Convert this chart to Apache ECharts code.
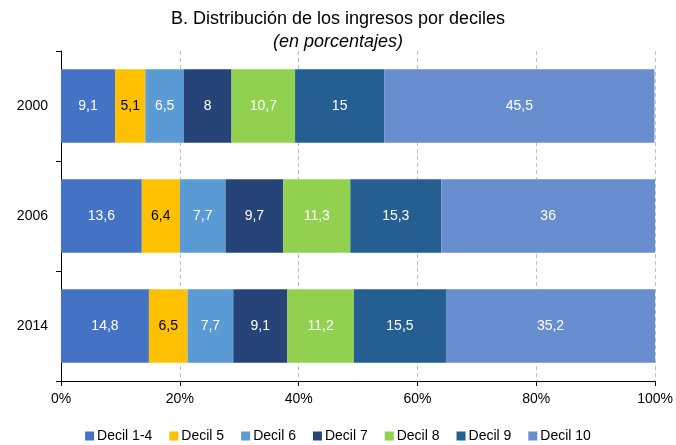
<!DOCTYPE html>
<html><head><meta charset="utf-8">
<script src="https://cdn.jsdelivr.net/npm/echarts@6/dist/echarts.min.js"></script>
<style>html,body{margin:0;padding:0;background:#fff}#c{width:676px;height:445px}</style>
</head><body><div id="c"></div>
<script>
const categories = ['2000', '2006', '2014'];
const seriesNames = ['Decil 1-4', 'Decil 5', 'Decil 6', 'Decil 7', 'Decil 8', 'Decil 9', 'Decil 10'];
const decil14 = [9.1, 13.6, 14.8];
const decil5 = [5.1, 6.4, 6.5];
const decil6 = [6.5, 7.7, 7.7];
const decil7 = [8, 9.7, 9.1];
const decil8 = [10.7, 11.3, 11.2];
const decil9 = [15, 15.3, 15.5];
const decil10 = [45.5, 36, 35.2];
const xTicks = [0, 20, 40, 60, 80, 100];

const values = [decil14, decil5, decil6, decil7, decil8, decil9, decil10];
const colors = ['#4472C4', '#FFC000', '#5B9BD5', '#264478', '#92D050', '#255E91', '#698ED0'];
const labelColors = ['#fff', '#000', '#fff', '#fff', '#fff', '#fff', '#fff'];

const chart = echarts.init(document.getElementById('c'));
chart.setOption({
  animation: false,
  title: {
    text: 'B. Distribución de los ingresos por deciles',
    subtext: '(en porcentajes)',
    left: 'center', top: 9, itemGap: 3, padding: 0,
    textStyle: {fontFamily: 'Liberation Sans', fontSize: 18, fontWeight: 'normal', color: '#000', lineHeight: 20},
    subtextStyle: {fontFamily: 'Liberation Sans', fontSize: 18, fontStyle: 'italic', color: '#000', lineHeight: 20}
  },
  legend: {
    bottom: 2, left: 'center', itemWidth: 9, itemHeight: 9, itemGap: 17, padding: 0,
    icon: 'rect',
    textStyle: {fontFamily: 'Liberation Sans', fontSize: 14, color: '#000', padding: [0, 0, 0, -2]},
    data: seriesNames
  },
  grid: {left: 61, right: 19, top: 51, bottom: 64},
  xAxis: {
    type: 'value', min: 0, max: 100, interval: 20,
    axisLine: {show: true, lineStyle: {color: '#000'}},
    axisTick: {show: true, length: 5, lineStyle: {color: '#000'}},
    axisLabel: {formatter: v => xTicks.includes(v) ? v + '%' : '', fontFamily: 'Liberation Sans', fontSize: 14, color: '#000', margin: 11},
    splitLine: {show: true, lineStyle: {color: '#BFBFBF', type: [4, 3]}}
  },
  yAxis: {
    type: 'category', inverse: true, data: categories,
    axisLine: {show: true, lineStyle: {color: '#000'}},
    axisTick: {show: true, length: 5, lineStyle: {color: '#000'}},
    axisLabel: {fontFamily: 'Liberation Sans', fontSize: 14, color: '#000', margin: 13}
  },
  series: seriesNames.map((n, i) => ({
    name: n, type: 'bar', stack: 'total', data: values[i], barWidth: '67%',
    itemStyle: {color: colors[i]},
    label: {show: true, position: 'inside', color: labelColors[i], fontFamily: 'Liberation Sans', fontSize: 14,
      formatter: p => String(p.value).replace('.', ',')}
  }))
});
</script></body></html>
